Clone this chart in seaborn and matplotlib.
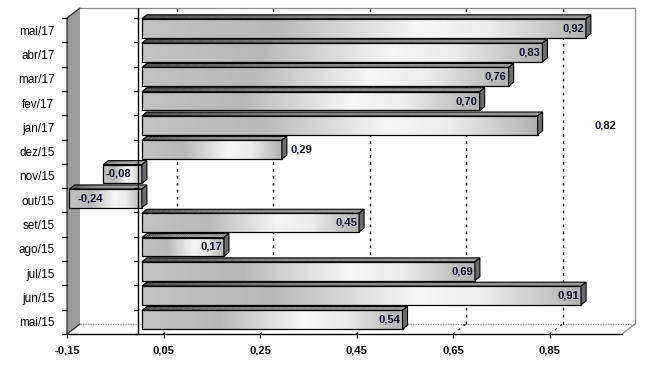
import numpy as np
import pandas as pd
import matplotlib
matplotlib.use("Agg")
import matplotlib.pyplot as plt
import seaborn as sns
from matplotlib.patches import Polygon
from matplotlib.lines import Line2D
from matplotlib.transforms import IdentityTransform, ScaledTranslation
from matplotlib.colors import LinearSegmentedColormap

# ---------------- data ----------------
categories = ["mai/17", "abr/17", "mar/17", "fev/17", "jan/17", "dez/15", "nov/15",
              "out/15", "set/15", "ago/15", "jul/15", "jun/15", "mai/15"]
values = [0.92, 0.83, 0.76, 0.70, 0.82, 0.29, -0.08, -0.24, 0.45, 0.17, 0.69, 0.91, 0.54]
value_labels = ["0,92", "0,83", "0,76", "0,70", "0,82", "0,29", "-0,08", "-0,24",
                "0,45", "0,17", "0,69", "0,91", "0,54"]
tick_values = [-0.15, 0.05, 0.25, 0.45, 0.65, 0.85]
tick_labels = ["-0,15", "0,05", "0,25", "0,45", "0,65", "0,85"]
x_min, x_max = -0.15, 1.0

# ---------------- figure ----------------
W, H, DPI = 657, 366, 100
sns.set_theme(style="white")
plt.rcParams["font.family"] = ["Liberation Sans", "DejaVu Sans"]

fig = plt.figure(figsize=(W / DPI, H / DPI), dpi=DPI)
fig.patch.set_facecolor("white")
L, R, T, B = 67, 622, 18, 334          # front plane (image pixels)
ax = fig.add_axes([L / W, 1 - B / H, (R - L) / W, (B - T) / H])
ax.patch.set_visible(False)

df = pd.DataFrame({"cat": categories, "val": values})
sns.barplot(data=df, y="cat", x="val", orient="h", width=0.77, color="white",
            edgecolor="black", linewidth=0.9, ax=ax, zorder=6)
bar_patches = list(ax.patches)
ax.set_xlim(x_min, x_max)
ax.set_ylim(len(categories) - 0.5, -0.5)
ax.autoscale(False)
for s in ax.spines.values():
    s.set_visible(False)
ax.set_xlabel("")
ax.set_ylabel("")
ax.set_xticks(tick_values)
ax.set_xticklabels(tick_labels, fontsize=8, fontweight="bold", color="black")
ax.tick_params(axis="x", length=3.2, width=0.9, color="black", direction="out", pad=5,
               bottom=True)
ax.set_yticks(range(len(categories)))
ax.set_yticklabels(categories, fontsize=8.5, color="black")
ax.tick_params(axis="y", length=0, pad=9)

ID = IdentityTransform()
DX, DY = 13, 10      # wall depth (display px, y up)
bdx, bdy = 5, 4      # bar depth
boff = ScaledTranslation(2.5 / DPI, 2 / DPI, fig.dpi_scale_trans)

fx0, fx1 = L, R
fy0, fy1 = H - B, H - T   # display y of front bottom / top


def poly(pts, **kw):
    p = Polygon(pts, closed=True, transform=ID, clip_on=False, **kw)
    ax.add_artist(p)
    return p


def line(xs, ys, **kw):
    l = Line2D(xs, ys, transform=ID, clip_on=False, **kw)
    ax.add_artist(l)
    return l


# back wall
poly([(fx0 + DX, fy0 + DY), (fx1 + DX, fy0 + DY), (fx1 + DX, fy1 + DY), (fx0 + DX, fy1 + DY)],
     facecolor="white", edgecolor="none", zorder=0)
line([fx0 + DX, fx1 + DX, fx1 + DX], [fy1 + DY, fy1 + DY, fy0 + DY], color="#8c8c8c",
     lw=0.9, zorder=1)
# floor
poly([(fx0, fy0), (fx1, fy0), (fx1 + DX, fy0 + DY), (fx0 + DX, fy0 + DY)],
     facecolor="white", edgecolor="none", zorder=0)
line([fx0 + DX, fx1 + DX], [fy0 + DY, fy0 + DY], color="#8c8c8c", lw=0.9, ls=(0, (1, 1)), zorder=1)
line([fx1, fx1 + DX], [fy0, fy0 + DY], color="#8c8c8c", lw=0.9, zorder=1)
line([fx0, fx1], [fy0, fy0], color="black", lw=1.0, zorder=2)
# left wall
poly([(fx0, fy0), (fx0 + DX, fy0 + DY), (fx0 + DX, fy1 + DY), (fx0, fy1)],
     facecolor="#9b9b9b", edgecolor="none", zorder=1)
line([fx0, fx0, fx0 + DX], [fy0, fy1, fy1 + DY], color="#303030", lw=0.9, zorder=2)
line([fx0, fx0 + DX], [fy0, fy0 + DY], color="#303030", lw=0.9, zorder=2)

# gridlines on back wall + floor
for v in tick_values[1:]:
    xd = ax.transData.transform((v, 0))[0]
    line([xd + DX, xd + DX], [fy0 + DY, fy1 + DY], color="black", lw=1.0,
         ls=(0, (2, 3)), zorder=1.5)
    line([xd, xd + DX], [fy0, fy0 + DY], color="black", lw=0.8, ls=(0, (2, 4)), zorder=1.5)

# category boundary ticks
for k in range(len(categories) + 1):
    yd = ax.transData.transform((0, k - 0.5))[1]
    line([fx0 - 5, fx0], [yd, yd], color="black", lw=0.9, zorder=3)

# ---------------- bars with 3D faces ----------------
front_cmap = LinearSegmentedColormap.from_list(
    "front", [(0.0, "#c2c2c2"), (0.3, "#b9b9b9"), (0.62, "#f6f6f6"),
              (0.78, "#ececec"), (1.0, "#b2b2b2")])
top_cmap = LinearSegmentedColormap.from_list(
    "top", [(0.0, "#505050"), (0.4, "#858585"), (1.0, "#9a9a9a")])

grad = np.linspace(0, 1, 256).reshape(1, -1)
for i, p in enumerate(bar_patches):
    x0, w = p.get_x(), p.get_width()
    left, right = min(x0, x0 + w), max(x0, x0 + w)
    left = max(left, x_min)
    y0, h = p.get_y(), p.get_height()
    p.set_x(left)
    p.set_width(right - left)
    p.set_facecolor("none")
    p.set_transform(ax.transData + boff)
    p.set_zorder(8)
    ax.imshow(grad, extent=[left, right, y0 + h, y0], aspect="auto", cmap=front_cmap,
              interpolation="bilinear", zorder=7, transform=ax.transData + boff)
    trf = ax.transData + boff
    (lx, by), (rx, ty) = trf.transform([(left, y0 + h), (right, y0)])
    n = 40
    for j in range(n):
        a = lx + (rx - lx) * j / n
        b = lx + (rx - lx) * (j + 1.05) / n
        poly([(a, ty), (b, ty), (b + bdx, ty + bdy), (a + bdx, ty + bdy)],
             facecolor=top_cmap((j + 0.5) / n), edgecolor="none", zorder=7.5)
    poly([(lx, ty), (rx, ty), (rx + bdx, ty + bdy), (lx + bdx, ty + bdy)],
         facecolor="none", edgecolor="black", lw=0.8, zorder=8)
    poly([(rx, by), (rx, ty), (rx + bdx, ty + bdy), (rx + bdx, by + bdy)],
         facecolor="#6c6c6c", edgecolor="black", lw=0.8, zorder=8)

ax.set_xlim(x_min, x_max)
ax.set_ylim(len(categories) - 0.5, -0.5)

# zero line with ticks
zx = ax.transData.transform((0, 0))[0] - 1
line([zx, zx], [fy0, fy1 + DY], color="black", lw=1.0, zorder=9)
for k in range(len(categories) + 1):
    yd = ax.transData.transform((0, k - 0.5))[1]
    line([zx - 4, zx], [yd, yd], color="black", lw=0.9, zorder=9)

# ---------------- value labels ----------------
lab_trf = ax.transData + boff
for i, (c, v, s) in enumerate(zip(categories, values, value_labels)):
    kw = dict(fontsize=8, fontweight="bold", color="#0a0a2a", va="center", zorder=10,
              annotation_clip=False)
    if c == "jan/17":
        ax.annotate(s, xy=(0.96, i), xycoords=lab_trf, ha="center", **kw)
    elif c == "dez/15":
        ax.annotate(s, xy=(v, i), xycoords=lab_trf, xytext=(6, 0),
                    textcoords="offset points", ha="left", **kw)
    elif v < 0:
        xv = max(v, x_min)
        off = 6 if v < x_min else 1.5
        ax.annotate(s, xy=(xv, i), xycoords=lab_trf, xytext=(off, 0),
                    textcoords="offset points", ha="left", **kw)
    else:
        ax.annotate(s, xy=(v, i), xycoords=lab_trf, xytext=(-1.5, 0),
                    textcoords="offset points", ha="right", **kw)

fig.savefig("out.png", dpi=DPI, facecolor="white")
